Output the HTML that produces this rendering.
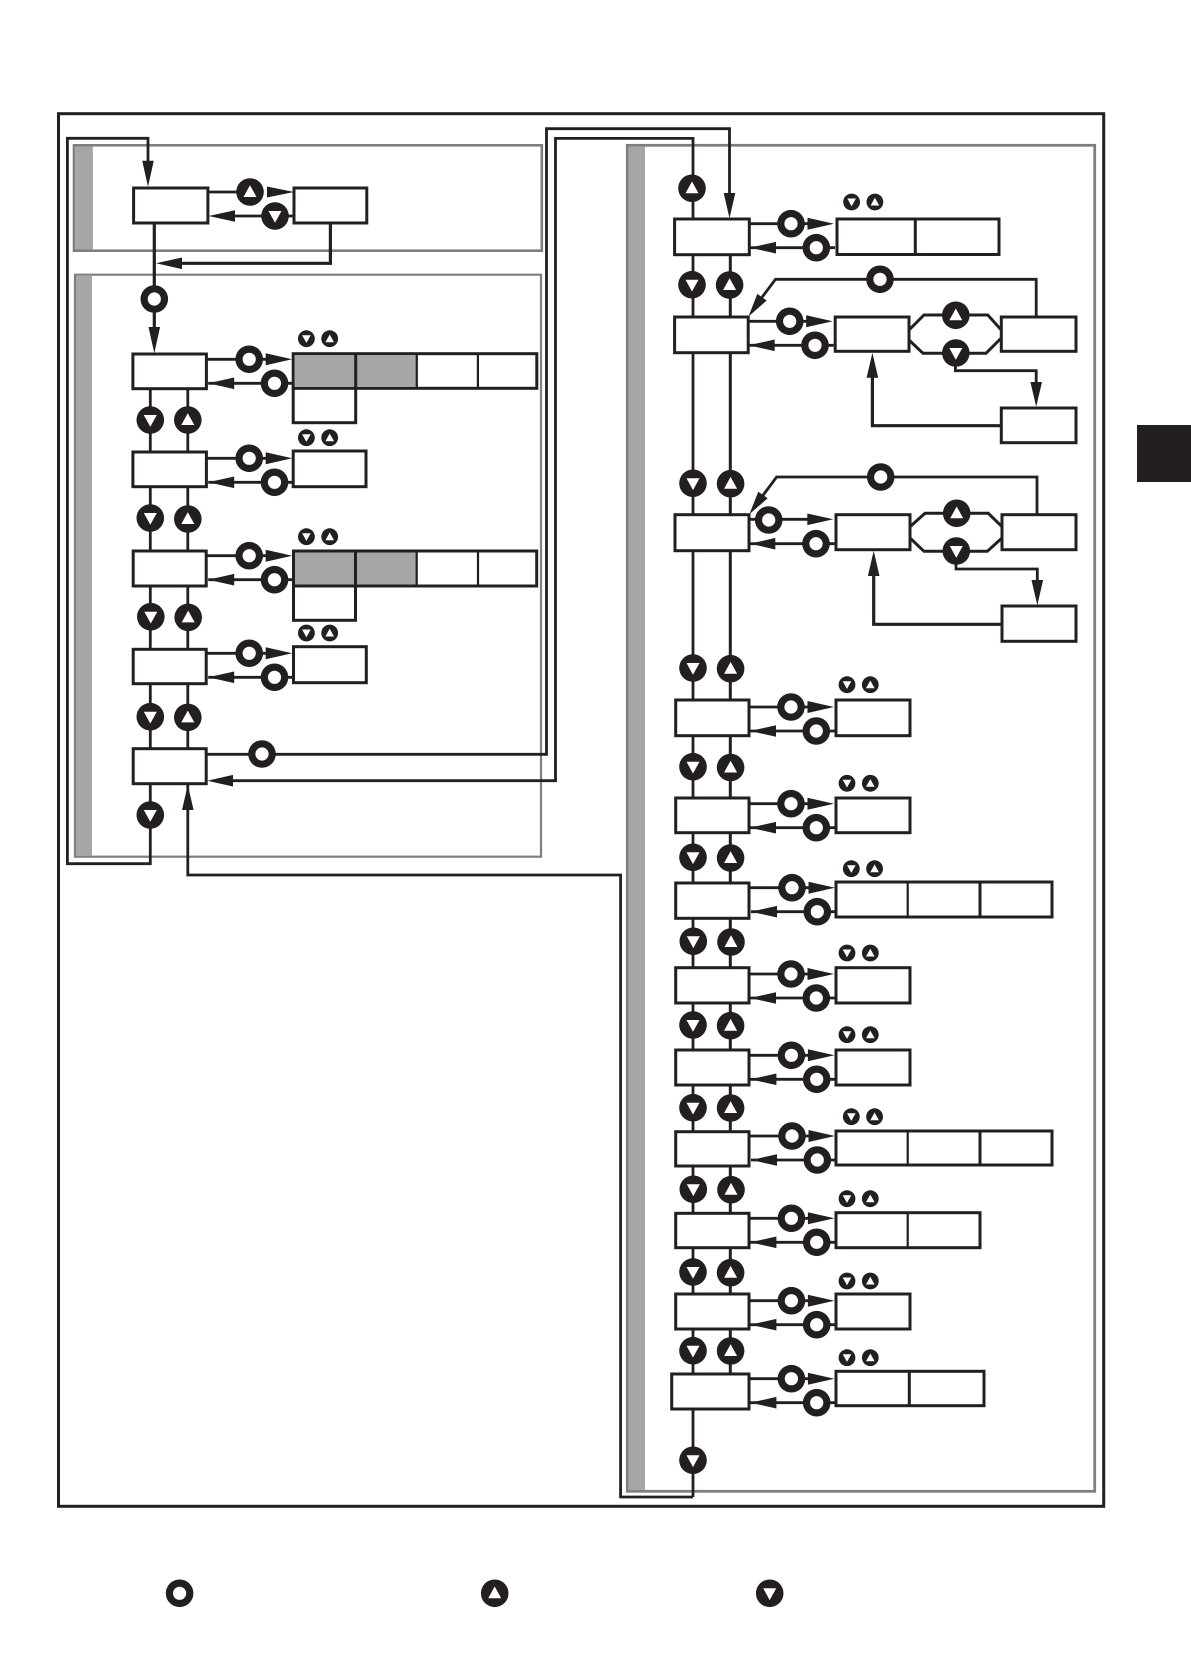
<!DOCTYPE html>
<html><head><meta charset="utf-8"><title>Menu diagram</title>
<style>html,body{margin:0;padding:0;background:#fff}svg{display:block}</style></head>
<body>
<svg xmlns="http://www.w3.org/2000/svg" width="1191" height="1678" viewBox="0 0 1191 1678">
<defs>
<g id="o"><circle r="13.8" fill="#231f20"/><circle r="6.6" fill="#fff"/></g>
<g id="u"><circle r="13.8" fill="#231f20"/><polygon points="0,-6.8 6.5,5 -6.5,5" fill="#fff"/></g>
<g id="d"><circle r="13.8" fill="#231f20"/><polygon points="-6.5,-5 6.5,-5 0,6.8" fill="#fff"/></g>
<g id="sd"><circle r="8.4" fill="#231f20"/><polygon points="-4.3,-3.5 4.3,-3.5 0,4.2" fill="#fff"/></g>
<g id="su"><circle r="8.4" fill="#231f20"/><polygon points="0,-4.2 4.3,3.5 -4.3,3.5" fill="#fff"/></g>
<g id="sp"><use href="#sd"/><use href="#su" x="23.3"/></g>
<g id="c">
<path d="M0 0H60M1 24H86" fill="none" stroke="#231f20" stroke-width="2.8"/>
<polygon points="58.5,-6 85,0 58.5,6" fill="#231f20"/>
<polygon points="1,24 27,18.2 27,29.8" fill="#231f20"/>
<use href="#o" x="42" y="0"/><use href="#o" x="67.3" y="24"/>
</g>
</defs>
<rect width="1191" height="1678" fill="#fff"/>
<rect x="1137" y="425" width="54" height="57" fill="#231f20"/>
<rect x="58.5" y="113.7" width="1045.2" height="1392.6" fill="#fff" stroke="#231f20" stroke-width="3"/>

<g fill="#fff" stroke="#7f7f7f">
<rect x="74" y="145.3" width="467.8" height="105.4" stroke-width="2.6"/>
<rect x="75" y="274.7" width="466" height="582" stroke-width="2.2"/>
<rect x="627.3" y="145.3" width="467.4" height="1346" stroke-width="2.8"/>
</g>
<g fill="#a7a5a6">
<rect x="75.5" y="146.5" width="17.4" height="103"/>
<rect x="76" y="276" width="16" height="580"/>
<rect x="628.6" y="146.6" width="16.4" height="1343.4"/>
</g>

<g fill="none" stroke="#231f20" stroke-width="2.8">
<path d="M148 165V138.3H67.4V863.7H150.3V388"/>
<path d="M187.8 354V875H620.6V1497H693"/>
<path d="M693 1497V138.4H555.5V780.7H225"/>
<path d="M207 754.3H546.5V128.7H729.5V195"/>
<path d="M730.3 254V1374" stroke-width="3"/>
<path d="M154.3 223V335" stroke-width="3.2"/>
<path d="M330.4 223V263.3H175" stroke-width="3.2"/>
<path d="M207.9 192H250M235 216H294"/>
<path d="M1036.2 317V279.3H775.5L760 300"/>
<path d="M909 330L924 315H987.8L1001.3 330M909 340L923 353.3H986L1001.3 338" stroke-width="3"/>
<path d="M955.4 353V370.7H1036.2V385"/>
<path d="M1001.3 425.7H872.4V372" stroke-width="3.2"/>
<path d="M1037 515V477H776.6L761 498"/>
<path d="M910 526.7L925 513.3H988.3L1002 526.7M910 538L924 551.3H987.3L1002 538" stroke-width="3"/>
<path d="M956 551V569H1037.3V584"/>
<path d="M1002 624.3H873.7V571" stroke-width="3.2"/>
<path d="M749 519.3H812M750 543.7H836"/>
</g>

<g fill="#231f20">
<polygon points="148,186.7 142.2,160.7 153.8,160.7"/>
<polygon points="154.3,353.3 148.5,327 160.1,327"/>
<polygon points="156,263.3 182,257.5 182,269.1"/>
<polygon points="187.8,785 182,810 193.6,810"/>
<polygon points="207.3,780.7 233,774.9 233,786.5"/>
<polygon points="729.5,218.3 723.7,193 735.3,193"/>
<polygon points="267,186.5 294,192 267,197.5"/>
<polygon points="208.6,216 235,210.2 235,221.8"/>
<polygon points="748.5,316.5 766.7,300.5 757.3,293.9"/>
<polygon points="749.3,514.3 767.7,498.3 758.3,491.7"/>
<polygon points="1036.2,406.7 1030.4,382 1042,382"/>
<polygon points="1037.3,605.3 1031.5,580 1043.1,580"/>
<polygon points="872.4,352.7 866.6,377.7 878.2,377.7"/>
<polygon points="873.7,550.7 867.9,576 879.5,576"/>
<polygon points="807.3,513.5 833.3,519.3 807.3,525.1"/>
<polygon points="750,543.7 775.3,537.9 775.3,549.5"/>
</g>

<g fill="#fff" stroke="#231f20" stroke-width="3">
<rect x="133.6" y="188" width="74.3" height="35"/>
<rect x="294" y="188" width="72.8" height="35"/>
<rect x="132.9" y="354" width="73.5" height="34.7"/>
<rect x="132.9" y="452" width="73.5" height="34.7"/>
<rect x="133.2" y="551" width="73" height="35"/>
<rect x="133.2" y="649.3" width="73" height="34.4"/>
<rect x="133.2" y="748.7" width="73" height="35"/>
<rect x="293.2" y="388" width="62.5" height="34.7"/>
<rect x="293.2" y="451" width="72.8" height="35.7"/>
<rect x="293.5" y="586" width="62" height="34.3"/>
<rect x="293.5" y="646.7" width="72.8" height="36"/>
<rect x="674.6" y="219" width="74.7" height="35.7"/>
<rect x="674.6" y="317" width="73.6" height="35.7"/>
<rect x="835.2" y="317" width="73.8" height="34.3"/>
<rect x="1001.3" y="317" width="74.7" height="34.3"/>
<rect x="1001.3" y="408" width="74.7" height="34.7"/>
<rect x="675" y="514.7" width="74" height="36"/>
<rect x="836" y="514.7" width="74" height="35"/>
<rect x="1002" y="514.7" width="74" height="35"/>
<rect x="1002" y="606" width="74" height="35.3"/>
<rect x="675.7" y="700" width="73.3" height="35.7"/>
<rect x="675.7" y="798" width="73.3" height="34.7"/>
<rect x="675.7" y="883" width="73.3" height="35.3"/>
<rect x="675.7" y="967.7" width="73.3" height="35.3"/>
<rect x="675.7" y="1050" width="73.3" height="35"/>
<rect x="675.7" y="1131.7" width="73.3" height="34.3"/>
<rect x="675.7" y="1213.3" width="73.3" height="34.4"/>
<rect x="675.7" y="1294" width="73.3" height="35"/>
<rect x="671.7" y="1374" width="77.3" height="35"/>
<rect x="836" y="700" width="74" height="35.7"/>
<rect x="836" y="798" width="74" height="34.7"/>
<rect x="836" y="967.7" width="74" height="35.3"/>
<rect x="836" y="1050" width="74" height="35"/>
<rect x="836" y="1294" width="74" height="35"/>
<rect x="293.2" y="353.7" width="243.6" height="34.6"/>
<rect x="293.5" y="551" width="243.2" height="35"/>
<rect x="837" y="219" width="162" height="35.5"/>
<rect x="836" y="882" width="216" height="35"/>
<rect x="836" y="1131" width="216" height="34"/>
<rect x="836" y="1212.7" width="144" height="35"/>
<rect x="836" y="1371.3" width="148" height="34.4"/>
</g>
<rect x="294.7" y="355.2" width="122.1" height="31.6" fill="#a7a5a6"/>
<rect x="295" y="552.5" width="121.7" height="32" fill="#a7a5a6"/>
<g fill="none" stroke="#231f20">
<path d="M355.7 354V388M355.5 551V586M915.3 219V254M980 882V917M980 1131V1165M909.3 1371V1405" stroke-width="3"/>
<path d="M416.8 354V388M477.9 354V388M416.7 551V586M478 551V586M907.7 882V917M907.7 1131V1165M907.7 1213V1247" stroke-width="2.2"/>
</g>

<use href="#c" x="207.2" y="359.3"/>
<use href="#c" x="207.2" y="458.3"/>
<use href="#c" x="207.2" y="555.7"/>
<use href="#c" x="207.2" y="653.3"/>
<use href="#c" x="749" y="223.7"/>
<use href="#c" x="747.7" y="321.3"/>
<use href="#c" x="749" y="707"/>
<use href="#c" x="749" y="803.7"/>
<use href="#c" x="750" y="887.7"/>
<use href="#c" x="749" y="974"/>
<use href="#c" x="749.4" y="1055.3"/>
<use href="#c" x="750" y="1136"/>
<use href="#c" x="749.4" y="1218.3"/>
<use href="#c" x="749.4" y="1300.7"/>
<use href="#c" x="749.4" y="1378.7"/>

<use href="#o" x="154.3" y="299"/>
<use href="#o" x="262" y="754"/>
<use href="#o" x="880" y="279.3"/>
<use href="#o" x="880.7" y="477"/>
<use href="#o" x="768.7" y="520"/>
<use href="#o" x="816" y="543.7"/>

<use href="#u" x="250" y="192"/><use href="#d" x="275" y="216"/>
<use href="#u" x="955.8" y="315.3"/><use href="#d" x="955.8" y="353"/>
<use href="#u" x="956.7" y="513.3"/><use href="#d" x="956.3" y="551"/>

<use href="#d" x="150.3" y="420"/><use href="#u" x="187.8" y="420"/>
<use href="#d" x="150.3" y="518"/><use href="#u" x="187.8" y="519"/>
<use href="#d" x="150.8" y="616.7"/><use href="#u" x="188.2" y="617.4"/>
<use href="#d" x="150.3" y="716.7"/><use href="#u" x="187.8" y="717.4"/>
<use href="#d" x="150.3" y="815"/>

<use href="#u" x="692" y="188.3"/>
<use href="#d" x="692" y="284.7"/><use href="#u" x="729.6" y="285"/>
<use href="#d" x="693" y="483.3"/><use href="#u" x="730.6" y="483.7"/>
<use href="#d" x="693" y="668"/><use href="#u" x="730.6" y="668.7"/>
<use href="#d" x="693" y="766.7"/><use href="#u" x="730.6" y="767.5"/>
<use href="#d" x="693" y="857.3"/><use href="#u" x="730.6" y="858"/>
<use href="#d" x="693.3" y="941.3"/><use href="#u" x="731" y="942"/>
<use href="#d" x="693" y="1025"/><use href="#u" x="730.6" y="1025.7"/>
<use href="#d" x="693" y="1107.7"/><use href="#u" x="730.6" y="1108"/>
<use href="#d" x="693.3" y="1189.3"/><use href="#u" x="731" y="1189.7"/>
<use href="#d" x="693" y="1272"/><use href="#u" x="730.6" y="1272.7"/>
<use href="#d" x="693" y="1350.7"/><use href="#u" x="730.6" y="1351"/>
<use href="#d" x="693" y="1460.3"/>

<use href="#sp" x="306.4" y="338.7"/>
<use href="#sp" x="306.4" y="437.7"/>
<use href="#sp" x="306.4" y="536.7"/>
<use href="#sp" x="306.4" y="633"/>
<use href="#sp" x="851.6" y="202"/>
<use href="#sp" x="847" y="684.7"/>
<use href="#sp" x="847" y="783.3"/>
<use href="#sp" x="851.3" y="868.7"/>
<use href="#sp" x="847" y="953"/>
<use href="#sp" x="847" y="1034.7"/>
<use href="#sp" x="851.3" y="1116.7"/>
<use href="#sp" x="847" y="1198.7"/>
<use href="#sp" x="847" y="1281"/>
<use href="#sp" x="847" y="1357.7"/>

<use href="#o" x="179.6" y="1593.3"/>
<use href="#u" x="494.7" y="1593.3"/>
<use href="#d" x="769.7" y="1593.3"/>
</svg>
</body></html>
